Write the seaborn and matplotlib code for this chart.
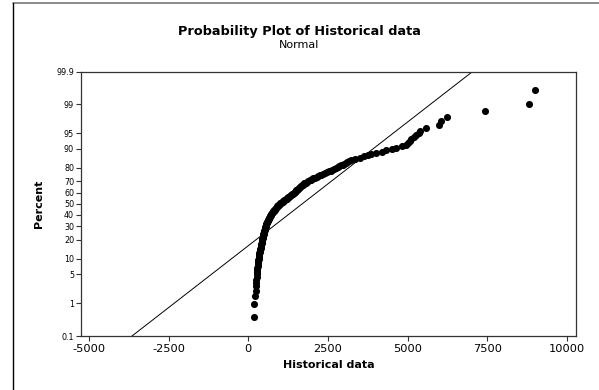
import numpy as np
import pandas as pd
import matplotlib
matplotlib.use("Agg")
import matplotlib.pyplot as plt
from matplotlib.lines import Line2D
import seaborn as sns
from statistics import NormalDist

# Historical observations, sorted ascending
historical = [
    187, 190, 212, 228, 240, 248, 255, 262, 268, 274,
    280, 286, 292, 298, 304, 310, 316, 322, 328, 334,
    340, 347, 354, 361, 368, 375, 382, 390, 396, 402,
    408, 414, 420, 426, 431, 437, 443, 449, 455, 460,
    466, 472, 478, 484, 490, 496, 502, 508, 514, 520,
    527, 533, 539, 545, 551, 557, 564, 570, 581, 592,
    602, 613, 624, 634, 645, 656, 667, 677, 688, 699,
    709, 720, 735, 750, 765, 780, 795, 810, 825, 840,
    855, 870, 885, 900, 915, 930, 955, 980, 1004, 1029,
    1053, 1078, 1102, 1127, 1151, 1176, 1200, 1225, 1250, 1275,
    1300, 1325, 1350, 1375, 1400, 1425, 1450, 1470, 1490, 1510,
    1530, 1550, 1570, 1590, 1610, 1635, 1660, 1685, 1710, 1735,
    1760, 1800, 1840, 1880, 1920, 1960, 2000, 2040, 2090, 2140,
    2190, 2240, 2290, 2340, 2400, 2460, 2520, 2580, 2640, 2700,
    2760, 2810, 2860, 2910, 2960, 3010, 3060, 3110, 3160, 3210,
    3350, 3500, 3620, 3740, 3860, 3990, 4200, 4320, 4510, 4640,
    4810, 4960, 5010, 5070, 5110, 5210, 5260, 5340, 5390, 5570,
    5990, 6030, 6240, 7440, 8790, 8980,
]

percent_ticks = [0.1, 1, 5, 10, 20, 30, 40, 50, 60, 70, 80, 90, 95, 99, 99.9]
percent_labels = ["0.1", "1", "5", "10", "20", "30", "40", "50", "60", "70",
                  "80", "90", "95", "99", "99.9"]
x_ticks = [-5000, -2500, 0, 2500, 5000, 7500, 10000]
x_labels = ["-5000", "-2500", "0", "2500", "5000", "7500", "10000"]

_nd = NormalDist()
_ppf = np.vectorize(_nd.inv_cdf, otypes=[float])
_cdf = np.vectorize(_nd.cdf, otypes=[float])


def pct_to_z(p):
    p = np.clip(np.asarray(p, dtype=float) / 100.0, 1e-9, 1 - 1e-9)
    return _ppf(p)


def z_to_pct(z):
    return 100.0 * _cdf(np.asarray(z, dtype=float))


# Median-rank plotting positions and fitted normal line
x = np.sort(np.asarray(historical, dtype=float))
n = len(x)
ranks = np.arange(1, n + 1)
pct = (ranks - 0.3) / (n + 0.4) * 100.0
mu = x.mean()
sd = x.std(ddof=1)

z_grid = np.linspace(-3.6, 3.6, 50)
fit = pd.DataFrame({"value": mu + sd * z_grid, "percent": z_to_pct(z_grid)})
pts = pd.DataFrame({"value": x, "percent": pct})

sns.set_style("white")
plt.rcParams["font.family"] = ["DejaVu Sans"]
plt.rcParams["axes.unicode_minus"] = False
for key in ["text.color", "axes.labelcolor", "xtick.color", "ytick.color"]:
    plt.rcParams[key] = "black"

fig = plt.figure(figsize=(5.99, 3.90), dpi=100)
ax = fig.add_axes([81 / 599, 1 - 336 / 390, (576 - 81) / 599, (336 - 71.5) / 390])
ax.set_yscale("function", functions=(pct_to_z, z_to_pct))

sns.lineplot(data=fit, x="value", y="percent", sort=False, color="black",
             linewidth=0.7, ax=ax, clip_on=True)
sns.scatterplot(data=pts, x="value", y="percent", color="black", s=26,
                linewidth=0, ax=ax, zorder=3)

ax.set_xlim(-5250, 10280)
ax.set_ylim(0.1, 99.9)
ax.set_xticks(x_ticks)
ax.set_xticklabels(x_labels, fontsize=8.2)
ax.set_yticks(percent_ticks)
ax.set_yticklabels(percent_labels, fontsize=5.8)
ax.yaxis.set_minor_locator(matplotlib.ticker.NullLocator())
ax.tick_params(axis="both", direction="out", length=3.5, width=0.8,
               color="#333333", bottom=True, left=True)
ax.tick_params(axis="x", pad=2.5)
ax.tick_params(axis="y", pad=1.5)
for side in ax.spines.values():
    side.set_color("#333333")
    side.set_linewidth(0.9)

ax.set_xlabel("Historical data", fontsize=8, fontweight="bold", labelpad=4)
ax.set_ylabel("Percent", fontsize=8, fontweight="bold", labelpad=9)

fig.text(0.5, 1 - 31 / 390, "Probability Plot of Historical data",
         ha="center", va="center", fontsize=9.3, fontweight="bold")
fig.text(0.5, 1 - 44.5 / 390, "Normal", ha="center", va="center", fontsize=8)

# Window frame edges
fig.add_artist(Line2D([13 / 599, 1], [1 - 3 / 390, 1 - 3 / 390],
                      transform=fig.transFigure, color="#777777", linewidth=1.2))
fig.add_artist(Line2D([13 / 599, 13 / 599], [0, 1 - 3 / 390],
                      transform=fig.transFigure, color="black", linewidth=1.0))

fig.savefig("out.png", dpi=100)
